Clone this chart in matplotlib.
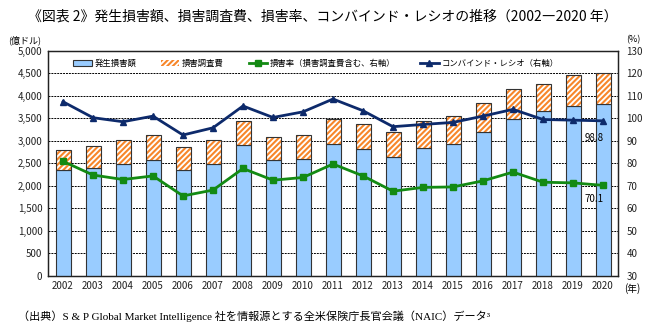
import numpy as np
import matplotlib.pyplot as plt
from matplotlib.lines import Line2D
from matplotlib.patches import Patch

plt.rcParams['font.family'] = ['Noto Sans CJK JP', 'DejaVu Sans']
plt.rcParams['hatch.linewidth'] = 1.5

years = [str(y) for y in range(2002, 2021)]
# 発生損害額 (億ドル)
losses = [2350, 2380, 2470, 2560, 2350, 2480, 2900, 2560, 2590, 2930,
          2810, 2630, 2830, 2930, 3200, 3490, 3650, 3760, 3810]
# 損害調査費 (億ドル)
adj_costs = [450, 490, 550, 570, 510, 540, 540, 530, 540, 560,
             560, 570, 600, 620, 630, 660, 620, 690, 690]
# 損害率 (%)
loss_ratio = [80.8, 74.7, 72.7, 74.3, 65.4, 68.0, 77.6, 72.4, 73.6, 79.6,
              74.3, 67.5, 69.2, 69.4, 72.1, 76.0, 71.5, 71.2, 70.1]
# コンバインド・レシオ (%)
combined = [107.3, 100.2, 98.4, 100.9, 92.5, 95.7, 105.4, 100.3, 102.8, 108.5,
            103.3, 96.2, 97.2, 98.1, 100.9, 103.9, 99.4, 99.1, 98.8]

blue = '#99ccff'
orange = '#f7862a'
green = '#138a13'
navy = '#0d2a6b'
edge = '#333333'

fig = plt.figure(figsize=(6.45, 3.29), dpi=100)
ax = fig.add_axes([48 / 645, 1 - 275.5 / 329, 570 / 645, 224.8 / 329])
ax2 = ax.twinx()

x = np.arange(len(years))
w = 0.5
ax.bar(x, losses, w, color=blue, edgecolor=edge, linewidth=0.8, zorder=3)
ax.bar(x, adj_costs, w, bottom=losses, color='white', edgecolor=orange,
       hatch='//////', linewidth=0, zorder=3)
ax.bar(x, adj_costs, w, bottom=losses, fill=False, edgecolor=edge,
       linewidth=0.8, zorder=4)

ax.set_xlim(-0.5, len(years) - 0.5)
ax.set_ylim(0, 5000)
ax.set_yticks(range(0, 5001, 500))
ax.set_yticklabels([f'{v:,}' for v in range(0, 5001, 500)])
ax.set_xticks(x)
ax.set_xticklabels(years)
ax.yaxis.grid(True, color='black', linestyle=(0, (2, 1)), linewidth=0.7, zorder=0)
ax.set_axisbelow(True)
ax.tick_params(axis='both', length=0, labelsize=7, colors='#222222', pad=4)

ax2.plot(x, loss_ratio, color=green, marker='s', markersize=5, linewidth=2, zorder=5)
ax2.plot(x, combined, color=navy, marker='^', markersize=4.5, linewidth=2, zorder=5)
ax2.set_ylim(30, 130)
ax2.set_yticks(range(30, 131, 10))
ax2.tick_params(axis='y', length=0, labelsize=7, colors='#222222', pad=6)

for a in (ax, ax2):
    for s in a.spines.values():
        s.set_linewidth(0.9)
        s.set_color('#222222')

ax2.text(18 - 0.3, 91, '98.8', fontsize=7, ha='center', va='center')
ax2.text(18 - 0.3, 64.2, '70.1', fontsize=7, ha='center', va='center')

handles = [
    Patch(facecolor=blue, edgecolor=edge, linewidth=0.8),
    Patch(facecolor='white', edgecolor=orange, hatch='//////', linewidth=0),
    Line2D([], [], color=green, marker='s', markersize=4, linewidth=2),
    Line2D([], [], color=navy, marker='^', markersize=4, linewidth=2),
]
labels = ['発生損害額', '損害調査費', '損害率（損害調査費含む、右軸）',
          'コンバインド・レシオ（右軸）']
leg = ax2.legend(handles, labels, loc='upper left', ncol=4, frameon=False,
                 fontsize=6, bbox_to_anchor=(0.03, 1.0), handlelength=2.2,
                 handleheight=0.8, columnspacing=3.0, handletextpad=0.3,
                 borderpad=0.5)
leg.set_zorder(10)

fig.text(0.5, 1 - 17 / 329, '《図表 2》発生損害額、損害調査費、損害率、コンバインド・レシオの推移（2002―2020 年）',
         ha='center', va='center', fontsize=10)
fig.text(25 / 645, 1 - 40 / 329, '(億ドル)', ha='center', va='center', fontsize=6.5)
fig.text(633 / 645, 1 - 40 / 329, '(%)', ha='center', va='center', fontsize=6.5)
fig.text(632 / 645, 1 - 289 / 329, '(年)', ha='center', va='center', fontsize=7)
fig.text(18 / 645, 1 - 316 / 329,
         '（出典）S & P Global Market Intelligence 社を情報源とする全米保険庁長官会議（NAIC）データ³',
         ha='left', va='center', fontsize=8,
         family=['Liberation Serif', 'Noto Sans CJK JP'])

fig.savefig('out.png', dpi=100)
